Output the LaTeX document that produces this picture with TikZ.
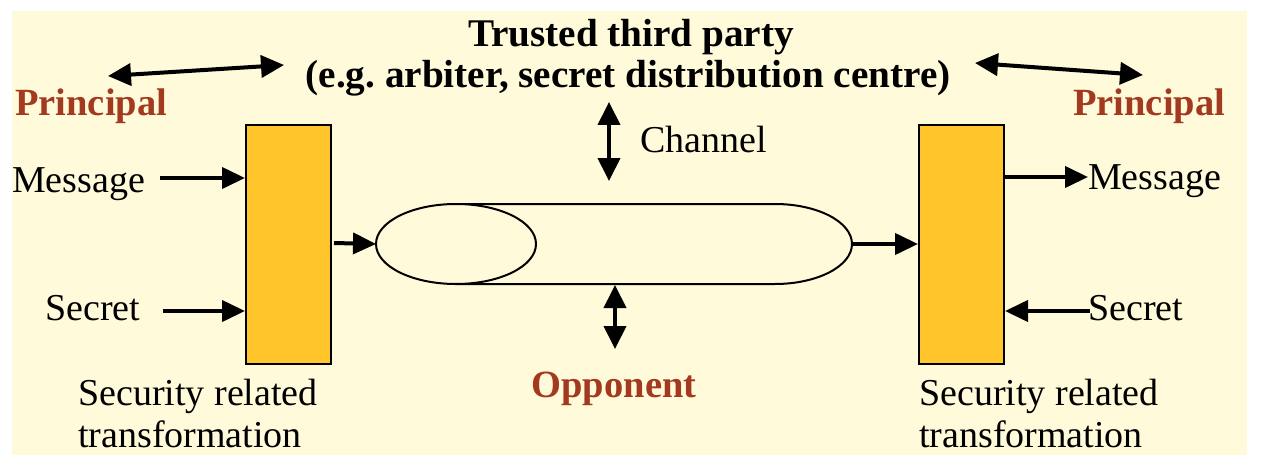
\documentclass[tikz,border=0pt]{standalone}
\usepackage{fontspec}
\setmainfont{Liberation Serif}
\usetikzlibrary{arrows.meta,shapes.geometric}
\definecolor{cream}{HTML}{FFFADA}
\definecolor{gold}{HTML}{FFC52A}
\definecolor{dred}{HTML}{A33A1F}
\tikzset{
  txt/.style={inner sep=0pt, font=\fontsize{38}{42}\selectfont},
  btxt/.style={txt, font=\fontsize{38.5}{42}\selectfont\bfseries},
  ttxt/.style={txt, font=\fontsize{39.2}{42}\selectfont\bfseries},
  rtxt/.style={btxt, text=dred},
  tbox/.style={draw, line width=2pt, fill=gold, minimum width=85pt, minimum height=239pt, inner sep=0pt},
  arr/.style={line width=4pt, -{Triangle[length=23pt,width=21pt]}},
  darr/.style={line width=4pt, {Triangle[length=23pt,width=22pt]}-{Triangle[length=23pt,width=22pt]}},
  pipe/.style={line width=2pt, fill=cream},
}
\frenchspacing
\begin{document}
\begin{tikzpicture}[x=1pt,y=-1pt]
\useasboundingbox (0,0) rectangle (1266,468);
\fill[white] (0,0) rectangle (1266,468);
\fill[cream] (12,11) rectangle (1247,455);

% titles
\node[ttxt, anchor=base] (ttp) at (631,47) {Trusted third party};
\node[ttxt, anchor=base] (eg) at (628,88) {(e.g. arbiter, secret distribution centre)};
\node[rtxt, anchor=base west] (prL) at (15,116) {Principal};
\node[rtxt, anchor=base west] (prR) at (1073,116) {Principal};

% boxes
\node[tbox] (boxL) at (288.5,244.5) {};
\node[tbox] (boxR) at (961.5,244.5) {};

% pipe
\draw[pipe] (456,204) -- (775,204) arc[start angle=90, end angle=-90, x radius=77pt, y radius=40pt] -- (456,284) -- cycle;
\draw[pipe] (456,244) ellipse [x radius=80pt, y radius=40pt];
\coordinate (cylL) at (376,244);
\coordinate (cylR) at (852,244);

% side texts
\node[txt, anchor=base west] (msgL) at (12,192) {Message};
\node[txt, anchor=base west] (secL) at (45,320) {Secret};
\node[txt, anchor=base west] (msgR) at (1088,189) {Message};
\node[txt, anchor=base west] (secR) at (1088,320) {Secret};
\node[txt, anchor=base west] (chan) at (640,153) {Channel};
\node[rtxt, anchor=base] (opp) at (614,397) {Opponent};
\node[txt, anchor=base west, align=left] (strL) at (78,447) {Security related\\transformation};
\node[txt, anchor=base west, align=left] (strR) at (919,447) {Security related\\transformation};

% arrow coordinates
\coordinate (mL) at (160,178);
\coordinate (sL) at (163,311);
\coordinate (mR) at (1088,177);
\coordinate (sR) at (1090,311);
\coordinate (bLo) at (334,243);
\coordinate (tl1) at (108,76);
\coordinate (tl2) at (284,65);
\coordinate (tr1) at (975,63);
\coordinate (tr2) at (1143,75);
\coordinate (ch1) at (609,102);
\coordinate (ch2) at (609,181);
\coordinate (op1) at (615,285);
\coordinate (op2) at (615,349);

\draw[arr] (mL) -- (mL -| boxL.west);
\draw[arr] (sL) -- (sL -| boxL.west);
\draw[arr] (bLo) -- (cylL);
\draw[arr] (cylR) -- (cylR -| boxR.west);
\draw[arr] (mR -| boxR.east) -- (mR);
\draw[arr] (sR) -- (sR -| boxR.east);
\draw[darr] (tl1) -- (tl2);
\draw[darr] (tr1) -- (tr2);
\draw[darr] (ch1) -- (ch2);
\draw[darr] (op1) -- (op2);
\end{tikzpicture}
\end{document}
